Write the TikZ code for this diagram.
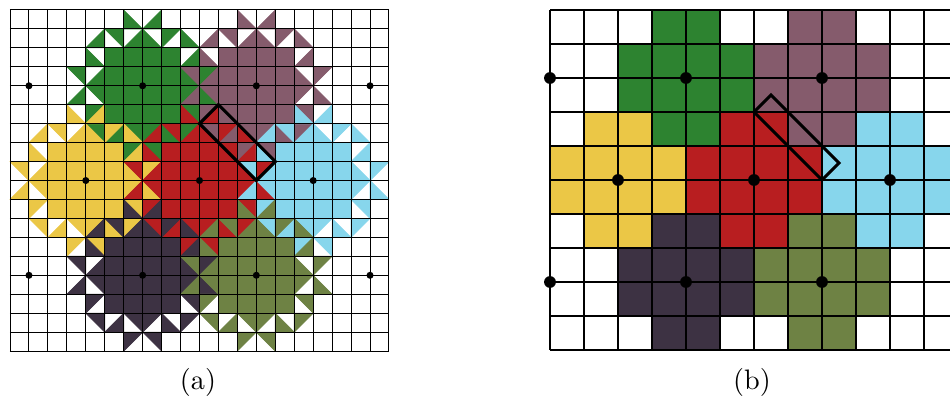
\documentclass[tikz,border=0pt]{standalone}
\usepackage{tikz}
\definecolor{blobGreen}{HTML}{2D8330}
\definecolor{blobMauve}{HTML}{855B6C}
\definecolor{blobYellow}{HTML}{EBC746}
\definecolor{blobRed}{HTML}{B81E20}
\definecolor{blobBlue}{HTML}{87D6EC}
\definecolor{blobDark}{HTML}{3D3243}
\definecolor{blobOlive}{HTML}{6E8244}
\tikzset{
  fine grid/.style={draw=black, line width=0.35pt},
  coarse grid/.style={draw=black, line width=0.45pt},
  cell fill/.style={fill=#1, draw=#1, line width=0.25pt, line join=round},
  site dot/.style={fill=black},
  patch box/.style={draw=black, line width=1.1pt, line join=miter},
  panel label/.style={font=\normalsize, inner sep=0pt}
}
% one quarter of a blob (upper left), cells counted i/j away from the centre
\def\fullcells{1/1,2/1,1/2,2/2}
\def\lrcells{3/1,1/3,3/3}
\def\urcells{4/1,2/3}
\def\llcells{3/2,1/4}
\newcommand\blobquarter[1]{%
  \foreach \i/\j in \fullcells \filldraw[cell fill=#1] (-\i,-\j) rectangle ++(1,1);
  \foreach \i/\j in \lrcells \filldraw[cell fill=#1] (-\i+1,-\j) -- ++(0,1) -- ++(-1,0) -- cycle;
  \foreach \i/\j in \urcells \filldraw[cell fill=#1] (-\i,-\j) -- ++(1,0) -- ++(0,1) -- cycle;
  \foreach \i/\j in \llcells \filldraw[cell fill=#1] (-\i,-\j) -- ++(0,1) -- ++(1,0) -- cycle;
}
\newcommand\blob[3]{%
  \foreach \sx/\sy in {1/1,-1/1,1/-1,-1/-1} {
    \begin{scope}[shift={(#1,#2)}, xscale=\sx, yscale=\sy]
      \blobquarter{#3}
    \end{scope}
  }
}

\begin{document}
\begin{tikzpicture}[x=0.355pt, y=-0.355pt]
  \useasboundingbox (0,0) rectangle (950,399);

  % (a) fine triangle mesh
  \begin{scope}[shift={(10,10)}, x=6.727pt, y=-6.727pt]
    \foreach \ox/\oy/\oc in {7/4/blobGreen,13/4/blobMauve,4/9/blobYellow,10/9/blobRed,
        16/9/blobBlue,7/14/blobDark,13/14/blobOlive}
      \blob{\ox}{\oy}{\oc};
    \foreach \i in {0,...,20} \draw[fine grid] (\i,0) -- (\i,18);
    \foreach \i in {0,...,18} \draw[fine grid] (0,\i) -- (20,\i);
    \foreach \ox/\oy in {1/4,7/4,13/4,19/4,4/9,10/9,16/9,1/14,7/14,13/14,19/14}
      \fill[site dot] (\ox,\oy) circle (1.25pt);
    \draw[patch box] (10,6) -- (11,5) -- (14,8) -- (13,9) -- cycle;
  \end{scope}
  \node[panel label] (lbla) at (198,382) {(a)};

  % (b) coarse square mesh
  \begin{scope}[shift={(550,10)}, x=12.07pt, y=-12.07pt]
    \foreach \row [count=\r from 0] in {
        {0,0,0,1,1,0,0,2,2,0,0,0},
        {0,0,1,1,1,1,2,2,2,2,0,0},
        {0,0,1,1,1,1,2,2,2,2,0,0},
        {0,3,3,1,1,4,4,2,2,5,5,0},
        {3,3,3,3,4,4,4,4,5,5,5,5},
        {3,3,3,3,4,4,4,4,5,5,5,5},
        {0,3,3,6,6,4,4,7,7,5,5,0},
        {0,0,6,6,6,6,7,7,7,7,0,0},
        {0,0,6,6,6,6,7,7,7,7,0,0},
        {0,0,0,6,6,0,0,7,7,0,0,0}} {
      \foreach \k [count=\c from 0] in \row {
        \ifnum\k>0
          \pgfmathsetmacro\kc{{"none","blobGreen","blobMauve","blobYellow","blobRed","blobBlue","blobDark","blobOlive"}[\k]}
          \filldraw[cell fill=\kc] (\c,\r) rectangle ++(1,1);
        \fi
      }
    }
    \foreach \i in {0,...,12} \draw[coarse grid] (\i,0) -- (\i,10);
    \foreach \i in {0,...,10} \draw[coarse grid] (0,\i) -- (12,\i);
    \foreach \ox/\oy in {0/2,4/2,8/2,2/5,6/5,10/5,0/8,4/8,8/8}
      \fill[site dot] (\ox,\oy) circle (2.1pt);
    \draw[patch box] (6,3) -- (6.5,2.5) -- (8.5,4.5) -- (8,5) -- cycle;
  \end{scope}
  \node[panel label] (lblb) at (752,382) {(b)};
\end{tikzpicture}
\end{document}
